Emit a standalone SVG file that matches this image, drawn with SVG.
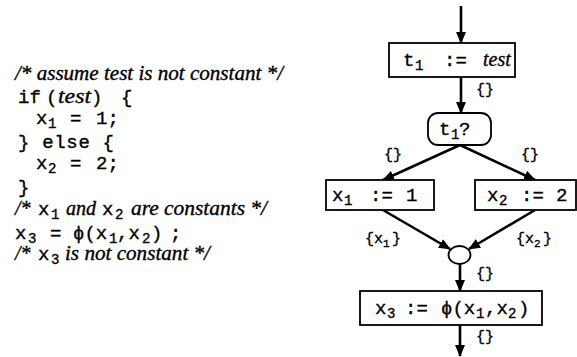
<svg xmlns="http://www.w3.org/2000/svg" width="577" height="357" viewBox="0 0 577 357">
<style>
text{fill:#000;stroke:#000;stroke-width:0.35}
.m{font-family:"Liberation Mono","DejaVu Sans Mono",monospace;font-size:19px;font-style:normal}
.s{font-family:"Liberation Mono","DejaVu Sans Mono",monospace;font-size:14px;font-style:normal}
.ss{font-family:"Liberation Mono","DejaVu Sans Mono",monospace;font-size:11px;font-style:normal}
.l{font-family:"Liberation Mono","DejaVu Sans Mono",monospace;font-size:15px}
.i{font-family:"Liberation Serif","Times New Roman",serif;font-style:italic;font-size:20px}
.box{fill:#fff;stroke:#000;stroke-width:1.8}
.c{stroke:#000;stroke-width:2.6;fill:none}
</style>
<defs>
<marker id="ah" markerUnits="userSpaceOnUse" markerWidth="12" markerHeight="10" refX="11" refY="5" orient="auto">
<path d="M0,0 L12,5 L0,10 z" fill="#000"/>
</marker>
</defs>
<rect width="577" height="357" fill="#fff"/>
<g id="code">
<text class="i" x="15" y="80" textLength="268" lengthAdjust="spacingAndGlyphs">/* assume test is not constant */</text>
<text class="m" y="103"><tspan x="18">if</tspan><tspan x="46">(</tspan><tspan class="i" x="58" font-size="21" textLength="33" lengthAdjust="spacingAndGlyphs">test</tspan><tspan x="91">)</tspan><tspan x="121">{</tspan></text>
<text class="m" y="124"><tspan x="36">x</tspan><tspan class="s" x="48" dy="4">1</tspan><tspan x="70" dy="-4">=</tspan><tspan x="96">1;</tspan></text>
<text class="m" x="18" y="148" font-size="20" textLength="96">} else {</text>
<text class="m" y="169"><tspan x="36">x</tspan><tspan class="s" x="48" dy="4">2</tspan><tspan x="70" dy="-4">=</tspan><tspan x="96">2;</tspan></text>
<text class="m" x="18" y="193">}</text>
<text class="i" y="215"><tspan x="15">/*</tspan><tspan class="m" x="38">x</tspan><tspan class="s" x="51" dy="4">1</tspan><tspan x="66" dy="-4">and</tspan><tspan class="m" x="102">x</tspan><tspan class="s" x="115" dy="4">2</tspan><tspan x="131" dy="-4" textLength="136" lengthAdjust="spacingAndGlyphs">are constants */</tspan></text>
<text class="m" y="239"><tspan x="15">x</tspan><tspan class="s" x="28" dy="4">3</tspan><tspan x="50" dy="-4">=</tspan><tspan x="73">ϕ(x</tspan><tspan class="s" x="109" dy="4">1</tspan><tspan x="117" dy="-4">,x</tspan><tspan class="s" x="142" dy="4">2</tspan><tspan x="151" dy="-4">)</tspan><tspan x="170">;</tspan></text>
<text class="i" y="260"><tspan x="15">/*</tspan><tspan class="m" x="38">x</tspan><tspan class="s" x="51" dy="4">3</tspan><tspan x="65" dy="-4" textLength="145" lengthAdjust="spacingAndGlyphs">is not constant */</tspan></text>
</g>
<g id="connectors">
<line class="c" x1="461" y1="6" x2="461" y2="43" marker-end="url(#ah)"/>
<line class="c" x1="461" y1="77" x2="461" y2="113" marker-end="url(#ah)"/>
<line class="c" x1="460" y1="145" x2="383" y2="180" marker-end="url(#ah)"/>
<line class="c" x1="460" y1="145" x2="535" y2="180" marker-end="url(#ah)"/>
<line class="c" x1="383" y1="210" x2="450" y2="249" marker-end="url(#ah)"/>
<line class="c" x1="535" y1="210" x2="469" y2="249" marker-end="url(#ah)"/>
<line class="c" x1="460" y1="264" x2="460" y2="291" marker-end="url(#ah)"/>
<line class="c" x1="460" y1="325" x2="460" y2="356" marker-end="url(#ah)"/>
<text class="l" x="476" y="94">{}</text>
<text class="l" x="384" y="159">{}</text>
<text class="l" x="521" y="159">{}</text>
<text class="l" y="243"><tspan x="365">{x</tspan><tspan class="ss" x="383" dy="4">1</tspan><tspan x="392" dy="-4">}</tspan></text>
<text class="l" y="243"><tspan x="516">{x</tspan><tspan class="ss" x="534" dy="4">2</tspan><tspan x="543" dy="-4">}</tspan></text>
<text class="l" x="476" y="278">{}</text>
<text class="l" x="476" y="341">{}</text>
</g>
<g id="n1">
<rect class="box" x="389" y="43" width="126" height="34"/>
<text class="m" y="66"><tspan x="403">t</tspan><tspan class="s" x="415" dy="4">1</tspan><tspan x="444" dy="-4">:=</tspan><tspan class="i" x="483">test</tspan></text>
</g>
<g id="n2">
<rect class="box" x="428" y="113" width="63" height="32" rx="10"/>
<text class="m" y="135"><tspan x="439">t</tspan><tspan class="s" x="451" dy="4">1</tspan><tspan x="459" dy="-4">?</tspan></text>
</g>
<g id="n3">
<rect class="box" x="326" y="180" width="108" height="30"/>
<text class="m" y="201"><tspan x="332">x</tspan><tspan class="s" x="344" dy="4">1</tspan><tspan x="370" dy="-4">:=</tspan><tspan x="406">1</tspan></text>
</g>
<g id="n4">
<rect class="box" x="475" y="180" width="101" height="30"/>
<text class="m" y="201"><tspan x="487">x</tspan><tspan class="s" x="499" dy="4">2</tspan><tspan x="521" dy="-4">:=</tspan><tspan x="556">2</tspan></text>
</g>
<g id="n5">
<ellipse class="box" cx="459.5" cy="255" rx="11" ry="9"/>
</g>
<g id="n6">
<rect class="box" x="360" y="291" width="182" height="34"/>
<text class="m" y="314"><tspan x="375">x</tspan><tspan class="s" x="387" dy="4">3</tspan><tspan x="405" dy="-4">:=</tspan><tspan x="441">ϕ(x</tspan><tspan class="s" x="476" dy="4">1</tspan><tspan x="485" dy="-4">,x</tspan><tspan class="s" x="508" dy="4">2</tspan><tspan x="518" dy="-4">)</tspan></text>
</g>
</svg>
